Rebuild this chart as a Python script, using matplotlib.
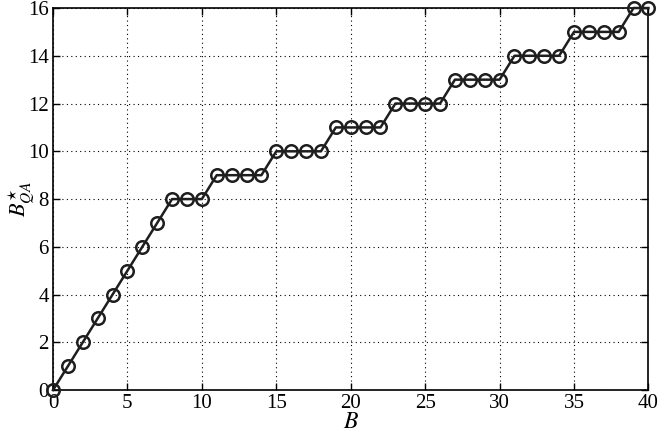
import numpy as np
import matplotlib
matplotlib.use("Agg")
import matplotlib.pyplot as plt

# B values and the optimal B*_QA
B = list(range(0, 41))
B_qa = [0, 1, 2, 3, 4, 5, 6, 7, 8, 8, 8,
        9, 9, 9, 9,
        10, 10, 10, 10,
        11, 11, 11, 11,
        12, 12, 12, 12,
        13, 13, 13, 13,
        14, 14, 14, 14,
        15, 15, 15, 15,
        16, 16]

x_ticks = [0, 5, 10, 15, 20, 25, 30, 35, 40]
y_ticks = [0, 2, 4, 6, 8, 10, 12, 14, 16]

plt.rcParams["font.family"] = ["Liberation Serif", "DejaVu Serif"]
plt.rcParams["mathtext.fontset"] = "stix"

fig = plt.figure(figsize=(6.58, 4.33), dpi=100)
ax = fig.add_axes([0.0805, 0.099, 0.905, 0.8825])

ax.plot(B, B_qa, color="#1e1e1e", linewidth=1.8, marker="o", markersize=9,
        markerfacecolor="none", markeredgewidth=1.8, markeredgecolor="#1e1e1e",
        clip_on=False, zorder=3)

ax.set_xlim(0, 40)
ax.set_ylim(0, 16)
ax.set_xticks(x_ticks)
ax.set_yticks(y_ticks)
ax.grid(True, linestyle=(0, (1, 3)), color="black", linewidth=0.8)
ax.tick_params(direction="in", top=True, right=True, labelsize=15, length=5,
               width=1, pad=3)
for s in ax.spines.values():
    s.set_linewidth(1.2)
    s.set_color("black")

ax.set_xlabel(r"$B$", fontsize=17, labelpad=-1)
ax.set_ylabel(r"$B^{\star}_{QA}$", fontsize=16)
ax.yaxis.set_label_coords(-0.026, 0.5)

fig.savefig("out.png", dpi=100)
